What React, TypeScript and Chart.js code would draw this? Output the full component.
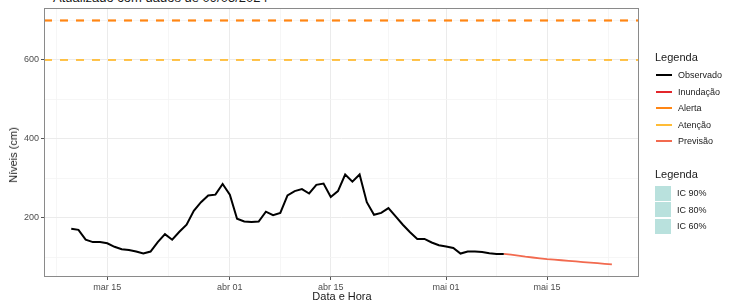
import React, { useEffect, useRef } from "react";
import { Chart, registerables } from "chart.js";

Chart.register(...registerables);

// Days counted from 2024-03-01 (day 0)
const OBS_START_DAY = 9; // 2024-03-10
const observedValues = [
  173, 170, 145, 139, 139, 136, 127, 121, 119, 115, 110, 115, 139, 159, 145, 165,
  183, 218, 240, 257, 259, 286, 259, 198, 191, 190, 191, 216, 207, 213, 257, 268,
  273, 262, 284, 287, 253, 268, 310, 292, 310, 240, 208, 213, 225, 204, 183, 164,
  147, 147, 138, 131, 128, 124, 110, 115, 115, 114, 111, 109, 109,
];
const FC_START_DAY = 69; // 2024-05-09
const forecastValues = [
  109, 107, 104.5, 102, 100, 98, 96, 94.5, 93, 91.5, 90, 88.5, 87, 85.5, 84, 82.5,
];
const alertaLevel = 700;
const atencaoLevel = 600;

const xMajorTicks = [14, 31, 45, 61, 75];
const xMajorLabels = ["mar 15", "abr 01", "abr 15", "mai 01", "mai 15"];
const xMinorTicks = [7, 22.5, 38, 53, 68, 83.5];
const yMajorTicks = [200, 400, 600];
const yMinorTicks = [100, 300, 500, 700];

const X_MIN = 5.22;
const X_MAX = 87.76;
const Y_MIN = 50.6;
const Y_MAX = 731.6;

const legendItems = [
  { label: "Observado", color: "#000000" },
  { label: "Inundação", color: "#e3262b" },
  { label: "Alerta", color: "#ff8614" },
  { label: "Atenção", color: "#ffbc36" },
  { label: "Previsão", color: "#f26a4f" },
];
const icItems = ["IC 90%", "IC 80%", "IC 60%"];

const FONT = "'Liberation Sans', Arial, sans-serif";

export default function App() {
  const ref = useRef<HTMLCanvasElement | null>(null);

  useEffect(() => {
    if (!ref.current) return;
    const obs = observedValues.map((y, i) => ({ x: OBS_START_DAY + i, y }));
    const fc = forecastValues.map((y, i) => ({ x: FC_START_DAY + i, y }));

    const borderPlugin = {
      id: "panelBorder",
      afterDraw(chart: any) {
        const { ctx, chartArea } = chart;
        ctx.save();
        ctx.strokeStyle = "#8a8a8a";
        ctx.lineWidth = 1;
        ctx.strokeRect(
          Math.round(chartArea.left) + 0.5,
          Math.round(chartArea.top) + 0.5,
          Math.round(chartArea.right - chartArea.left) - 1,
          Math.round(chartArea.bottom - chartArea.top) - 1
        );
        ctx.restore();
      },
    };

    const majX = new Set(xMajorTicks);
    const majY = new Set(yMajorTicks);

    const chart = new Chart(ref.current, {
      type: "line",
      data: {
        datasets: [
          {
            label: "Alerta",
            data: [
              { x: X_MIN, y: alertaLevel },
              { x: X_MAX, y: alertaLevel },
            ],
            borderColor: "#ff8614",
            borderWidth: 2.2,
            borderDash: [8, 8],
            pointRadius: 0,
            order: 5,
          },
          {
            label: "Atenção",
            data: [
              { x: X_MIN, y: atencaoLevel },
              { x: X_MAX, y: atencaoLevel },
            ],
            borderColor: "#ffbc36",
            borderWidth: 1.8,
            borderDash: [8, 8],
            pointRadius: 0,
            order: 4,
          },
          {
            label: "Previsão",
            data: fc,
            borderColor: "#f26a4f",
            borderWidth: 1.8,
            pointRadius: 0,
            order: 2,
          },
          {
            label: "Observado",
            data: obs,
            borderColor: "#000000",
            borderWidth: 2,
            pointRadius: 0,
            order: 1,
          },
        ],
      },
      options: {
        animation: false,
        responsive: false,
        devicePixelRatio: 1,
        layout: { padding: { top: 8, right: 95, left: 0, bottom: 0 } },
        plugins: {
          legend: { display: false },
          tooltip: { enabled: false },
        },
        scales: {
          x: {
            type: "linear",
            min: X_MIN,
            max: X_MAX,
            afterFit(scale: any) {
              scale.height = 26;
            },
            afterBuildTicks(scale: any) {
              scale.ticks = [...xMinorTicks, ...xMajorTicks]
                .sort((a, b) => a - b)
                .map((v) => ({ value: v }));
            },
            border: { display: false },
            grid: {
              color: (c: any) =>
                majX.has(c.tick?.value) ? "#ebebeb" : "#f4f4f4",
              lineWidth: (c: any) => (majX.has(c.tick?.value) ? 1 : 0.8),
              tickColor: (c: any) =>
                majX.has(c.tick?.value) ? "#555555" : "rgba(0,0,0,0)",
              tickLength: 3,
            },
            ticks: {
              autoSkip: false,
              maxRotation: 0,
              padding: 2,
              color: "#4d4d4d",
              font: { family: FONT, size: 9 },
              callback: (v: any) => {
                const i = xMajorTicks.indexOf(Number(v));
                return i >= 0 ? xMajorLabels[i] : "";
              },
            },
          },
          y: {
            type: "linear",
            min: Y_MIN,
            max: Y_MAX,
            afterFit(scale: any) {
              scale.width = 44;
            },
            afterBuildTicks(scale: any) {
              scale.ticks = [...yMinorTicks, ...yMajorTicks]
                .sort((a, b) => a - b)
                .map((v) => ({ value: v }));
            },
            border: { display: false },
            grid: {
              color: (c: any) =>
                majY.has(c.tick?.value) ? "#ebebeb" : "#f4f4f4",
              lineWidth: (c: any) => (majY.has(c.tick?.value) ? 1 : 0.8),
              tickColor: (c: any) =>
                majY.has(c.tick?.value) ? "#555555" : "rgba(0,0,0,0)",
              tickLength: 3,
            },
            ticks: {
              autoSkip: false,
              padding: 2,
              color: "#4d4d4d",
              font: { family: FONT, size: 9 },
              callback: (v: any) => (majY.has(Number(v)) ? String(v) : ""),
            },
          },
        },
      },
      plugins: [borderPlugin],
    } as any);
    return () => chart.destroy();
  }, []);

  return (
    <div
      style={{
        position: "absolute",
        left: 0,
        top: 0,
        width: 734,
        height: 303,
        overflow: "hidden",
        background: "#ffffff",
        fontFamily: FONT,
      }}
    >
      <div
        style={{
          position: "absolute",
          left: 53,
          top: -9,
          fontSize: 13,
          lineHeight: "13px",
          color: "#1a1a1a",
          whiteSpace: "nowrap",
        }}
      >
        Atualizado com dados de 09/05/2024
      </div>
      <canvas
        ref={ref}
        width={734}
        height={303}
        style={{ position: "absolute", left: 0, top: 0, width: 734, height: 303 }}
      />
      <div
        style={{
          position: "absolute",
          left: 13,
          top: 155,
          transform: "translate(-50%, -50%) rotate(-90deg)",
          fontSize: 11,
          color: "#1a1a1a",
          whiteSpace: "nowrap",
        }}
      >
        Níveis (cm)
      </div>
      <div
        style={{
          position: "absolute",
          left: 342,
          top: 296,
          transform: "translate(-50%, -50%)",
          fontSize: 11,
          color: "#1a1a1a",
          whiteSpace: "nowrap",
        }}
      >
        Data e Hora
      </div>
      <div style={{ position: "absolute", left: 655, top: 51, fontSize: 11, color: "#1a1a1a" }}>
        Legenda
      </div>
      {legendItems.map((it, i) => (
        <div
          key={it.label}
          style={{
            position: "absolute",
            left: 656,
            top: 75 + i * 16.5 - 7,
            height: 14,
            display: "flex",
            alignItems: "center",
            fontSize: 9,
            color: "#1a1a1a",
            whiteSpace: "nowrap",
          }}
        >
          <span
            style={{
              display: "inline-block",
              width: 16,
              height: 2,
              background: it.color,
              marginRight: 6,
            }}
          />
          {it.label}
        </div>
      ))}
      <div style={{ position: "absolute", left: 655, top: 168, fontSize: 11, color: "#1a1a1a" }}>
        Legenda
      </div>
      {icItems.map((t, i) => (
        <div
          key={t}
          style={{
            position: "absolute",
            left: 655,
            top: 185 + i * 16.5,
            height: 16,
            display: "flex",
            alignItems: "center",
            fontSize: 9,
            color: "#1a1a1a",
            whiteSpace: "nowrap",
          }}
        >
          <span
            style={{
              display: "inline-block",
              width: 16,
              height: 15,
              background: "#b9e1dd",
              marginRight: 6,
            }}
          />
          {t}
        </div>
      ))}
    </div>
  );
}
